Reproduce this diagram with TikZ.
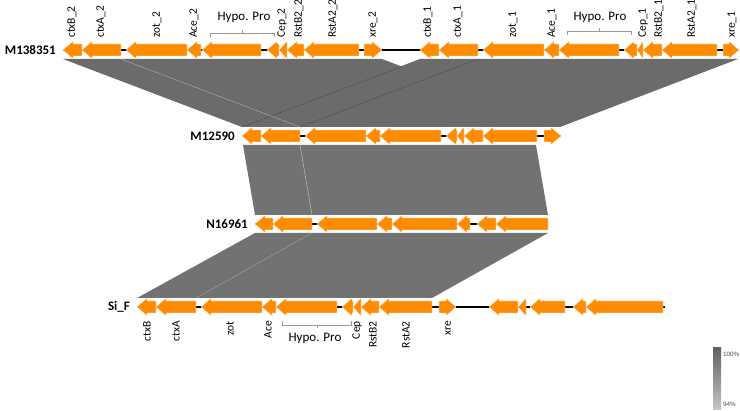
\documentclass[tikz,border=0pt]{standalone}
\usepackage{fontspec}
\setmainfont{Carlito}
\newfontfamily\legendfont{Liberation Sans}
\usepackage{tikz}
\usetikzlibrary{arrows.meta,calc}
\definecolor{geneorange}{HTML}{FF8C00}
\definecolor{bandgray}{HTML}{6B6B6B}

\newcommand{\geneleft}[3]{%
  \pgfmathsetmacro{\hx}{min(#2+10,#3)}%
  \filldraw[gene] (#2,#1) -- (\hx,#1-9) -- (\hx,#1-6) -- (#3,#1-6) -- (#3,#1+6) -- (\hx,#1+6) -- (\hx,#1+9) -- cycle;}
\newcommand{\generight}[3]{%
  \pgfmathsetmacro{\hx}{max(#3-10,#2)}%
  \filldraw[gene] (#3,#1) -- (\hx,#1-9) -- (\hx,#1-6) -- (#2,#1-6) -- (#2,#1+6) -- (\hx,#1+6) -- (\hx,#1+9) -- cycle;}

\begin{document}
\begin{tikzpicture}[x=1pt,y=-1pt,font=\fontsize{11.5}{13}\selectfont,
 gene/.style={fill=geneorange,draw=white,line width=.3pt},
 backbone/.style={line width=2pt,draw=black},
 band/.style={fill=bandgray},
 seam/.style={line width=.4pt},
 rowname/.style={font=\bfseries\fontsize{13}{15}\selectfont,anchor=east,inner sep=1pt},
 toplab/.style={rotate=90,anchor=west,inner sep=1pt},
 botlab/.style={rotate=90,anchor=east,inner sep=1pt},
 hypo/.style={font=\fontsize{13}{15}\selectfont,inner sep=1pt},
 brace/.style={draw=black!40,line width=.5pt},
 legtext/.style={font=\legendfont\fontsize{6.3}{8}\selectfont,text=black!70,anchor=west,inner sep=0pt}]
\fill[white] (0,0) rectangle (740,411);
\useasboundingbox (0,0) rectangle (740,411);
% similarity bands
\fill[band] (63,59) -- (382,59) -- (560,127) -- (242,127) -- cycle;
\fill[band] (420,59) -- (738,59) -- (560,127) -- (242,127) -- cycle;
\draw[seam,draw=black!30] (121,59) -- (300,127);
\draw[seam,draw=black!70] (401,67) -- (242,127);
\draw[seam,draw=black!70] (478,59) -- (300,127);
\fill[band,fill=bandgray!95!white] (243,145) -- (536,145) -- (548,215) -- (255,215) -- cycle;
\draw[seam,draw=white!80!black] (300,145) -- (312,215);
\fill[band,fill=bandgray!95!white] (255,233) -- (548,233) -- (432,298) -- (137,298) -- cycle;
\draw[seam,draw=black!35] (312,233) -- (196,298);
% M138351
\draw[backbone] (63,50) -- (739,50);
\foreach \a/\b in {63/82,82/121,126/187,187/201,202/261,267/279,279/287,287/304,304/359,
  420/439,439/478,483/544,544/559,559/619,624/637,637/643,643/662,662/717}
  {\geneleft{50}{\a}{\b}}
\generight{50}{364}{382}
\generight{50}{723}{739}
\node[rowname] (m138351) at (57,50) {M138351};
% M12590
\draw[backbone] (242,136) -- (561,136);
\foreach \a/\b in {242/261,261/300,305/366,366/380,380/441,446/457,457/464,464/483,483/537}
  {\geneleft{136}{\a}{\b}}
\generight{136}{544}{561}
\node[rowname] (m12590) at (236,136) {M12590};
% N16961
\draw[backbone] (255,224) -- (548,224);
\foreach \a/\b in {255/273,273/312,317/377,377/392,392/457,457/470,477/496,496/548}
  {\geneleft{224}{\a}{\b}}
\node[rowname] (n16961) at (249,224) {N16961};
% Si_F
\draw[backbone] (137,307) -- (665,307);
\foreach \a/\b in {137/156,156/196,201/262,262/276,276/337,342/353,353/361,361/379,379/432,
  489/518,518/526,530/565,573/586,586/663}
  {\geneleft{307}{\a}{\b}}
\generight{307}{439}{456}
\node[rowname] (sif) at (131,307) {Si\_F};
% gene names
\foreach \x/\t [count=\i] in {72/ctxB\_2,101/ctxA\_2,157/zot\_2,194/Ace\_2,282/Cep\_2,299/RstB2\_2,
  333/RstA2\_2,373/xre\_2,428/ctxB\_1,458/ctxA\_1,513/zot\_1,552/Ace\_1,643/Cep\_1,659/RstB2\_1,
  692/RstA2\_1,732/xre\_1}
  \node[toplab] (top\i) at (\x,39) {\t};
\foreach \x/\t [count=\i] in {147/ctxB,176/ctxA,230/zot,268/Ace,357/Cep,373/RstB2,406/RstA2,448/xre}
  \node[botlab] (bot\i) at (\x,320) {\t};
\draw[brace] (210,37) -- (210,33) -- (274,33) -- (274,37) (242,33) -- (242,30);
\node[hypo] (hypo2) at (244,17) {Hypo. Pro};
\draw[brace] (567,35) -- (567,31) -- (631,31) -- (631,35) (599,31) -- (599,28);
\node[hypo] (hypo1) at (600,17) {Hypo. Pro};
\draw[brace] (282,321) -- (282,325) -- (351,325) -- (351,321) (317,325) -- (317,328);
\node[hypo] (hypo0) at (315,338) {Hypo. Pro};
% identity scale
\shade[top color=black!62,bottom color=black!22] (713,348) rectangle (721,410);
\node[legtext] (pct100) at (723,354) {100\%};
\node[legtext] (pct94) at (723,404) {94\%};
\end{tikzpicture}
\end{document}
